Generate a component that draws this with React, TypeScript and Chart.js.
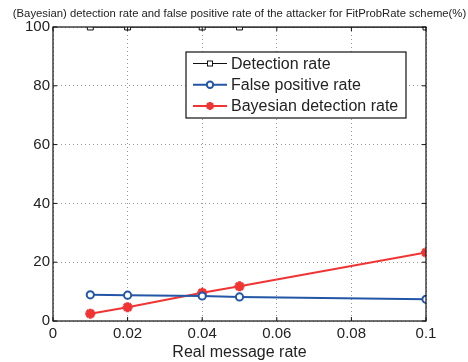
import React, { useEffect, useRef } from "react";
import { Chart, registerables } from "chart.js";

Chart.register(...registerables);

const TITLE = "(Bayesian) detection rate and false positive rate of the attacker for FitProbRate scheme(%)";
const X_LABEL = "Real message rate";
const messageRates = [0.01, 0.02, 0.04, 0.05, 0.1];
const detectionRate = [100, 100, 100, 100, 100];
const falsePositiveRate = [8.9, 8.8, 8.5, 8.2, 7.4];
const bayesianDetectionRate = [2.5, 4.7, 9.6, 11.8, 23.3];
const xTicks = [0, 0.02, 0.04, 0.06, 0.08, 0.1];
const yTicks = [0, 20, 40, 60, 80, 100];
const seriesLabels = ["Detection rate", "False positive rate", "Bayesian detection rate"];

const BLUE = "#2356a6";
const RED = "#f03434";
const TEXT = "#222222";
const FONT = "Liberation Sans, Arial, Helvetica, sans-serif";

function drawMarker(ctx: CanvasRenderingContext2D, style: string, x: number, y: number, color: string) {
  ctx.save();
  ctx.strokeStyle = color;
  if (style === "rect") {
    ctx.lineWidth = 1;
    ctx.fillStyle = "#fff";
    ctx.fillRect(x - 2.5, y - 2.5, 5, 5);
    ctx.strokeRect(x - 2.5, y - 2.5, 5, 5);
  } else if (style === "circle") {
    ctx.lineWidth = 2;
    ctx.fillStyle = "#fff";
    ctx.beginPath();
    ctx.arc(x, y, 3.2, 0, Math.PI * 2);
    ctx.fill();
    ctx.stroke();
  } else {
    ctx.lineWidth = 2.5;
    const r = 4;
    ctx.beginPath();
    for (let i = 0; i < 4; i++) {
      const a = (i * Math.PI) / 4;
      ctx.moveTo(x - r * Math.cos(a), y - r * Math.sin(a));
      ctx.lineTo(x + r * Math.cos(a), y + r * Math.sin(a));
    }
    ctx.stroke();
  }
  ctx.restore();
}

const framePlugin = {
  id: "frame",
  afterDraw(chart: any) {
    const { ctx, chartArea } = chart;
    const { left, right, top, bottom } = chartArea;
    ctx.save();
    ctx.fillStyle = TEXT;
    ctx.font = `11.3px ${FONT}`;
    ctx.textAlign = "center";
    ctx.textBaseline = "alphabetic";
    ctx.fillText(TITLE, (left + right) / 2, 17);
    ctx.strokeStyle = "#111";
    ctx.lineWidth = 1.2;
    ctx.strokeRect(left, top, right - left, bottom - top);
    ctx.lineWidth = 1;
    const xs = chart.scales.x;
    const ys = chart.scales.y;
    xTicks.forEach((v) => {
      const px = xs.getPixelForValue(v);
      ctx.beginPath();
      ctx.moveTo(px, bottom);
      ctx.lineTo(px, bottom - 4);
      ctx.moveTo(px, top);
      ctx.lineTo(px, top + 4);
      ctx.stroke();
    });
    yTicks.forEach((v) => {
      const py = ys.getPixelForValue(v);
      ctx.beginPath();
      ctx.moveTo(left, py);
      ctx.lineTo(left + 4, py);
      ctx.moveTo(right, py);
      ctx.lineTo(right - 4, py);
      ctx.stroke();
    });
    const bx = 186, by = 52, bw = 220, bh = 66;
    ctx.fillStyle = "#fff";
    ctx.fillRect(bx, by, bw, bh);
    ctx.strokeStyle = "#111";
    ctx.lineWidth = 1.2;
    ctx.strokeRect(bx, by, bw, bh);
    const styles = ["rect", "circle", "star"];
    chart.data.datasets.forEach((ds: any, i: number) => {
      const y = 63.5 + i * 21.2;
      ctx.strokeStyle = ds.borderColor;
      ctx.lineWidth = ds.borderWidth;
      ctx.beginPath();
      ctx.moveTo(193, y);
      ctx.lineTo(227, y);
      ctx.stroke();
      drawMarker(ctx, styles[i], 210, y, ds.borderColor);
      ctx.fillStyle = TEXT;
      ctx.font = `16px ${FONT}`;
      ctx.textAlign = "left";
      ctx.textBaseline = "middle";
      ctx.fillText(ds.label, 231, y + 1);
    });
    ctx.restore();
  },
};

export default function App() {
  const ref = useRef<HTMLCanvasElement | null>(null);
  useEffect(() => {
    if (!ref.current) return;
    const chart = new Chart(ref.current, {
      type: "line",
      data: {
        datasets: [
          {
            label: seriesLabels[0],
            data: messageRates.map((x, i) => ({ x, y: detectionRate[i] })),
            borderColor: "#111",
            backgroundColor: "#fff",
            borderWidth: 1,
            pointStyle: "rect",
            pointRadius: 4.2,
            pointBorderWidth: 1,
          },
          {
            label: seriesLabels[1],
            data: messageRates.map((x, i) => ({ x, y: falsePositiveRate[i] })),
            borderColor: BLUE,
            backgroundColor: "#fff",
            borderWidth: 2,
            pointStyle: "circle",
            pointRadius: 3.6,
            pointBorderWidth: 2,
          },
          {
            label: seriesLabels[2],
            data: messageRates.map((x, i) => ({ x, y: bayesianDetectionRate[i] })),
            borderColor: RED,
            backgroundColor: RED,
            borderWidth: 2,
            pointStyle: "star",
            pointRadius: 5,
            pointBorderWidth: 3,
          },
        ],
      },
      options: {
        animation: false,
        responsive: false,
        maintainAspectRatio: false,
        layout: { padding: { top: 27, left: 0, right: 42, bottom: 0 } },
        plugins: { legend: { display: false }, title: { display: false }, tooltip: { enabled: false } },
        elements: { line: { tension: 0 } },
        scales: {
          x: {
            type: "linear",
            min: 0,
            max: 0.1,
            afterBuildTicks: (s: any) => {
              s.ticks = xTicks.map((v) => ({ value: v }));
            },
            afterFit: (s: any) => {
              s.height = 41;
            },
            ticks: {
              color: TEXT,
              font: { size: 15, family: FONT },
              padding: 4,
              maxRotation: 0,
              callback: (v: any) => String(+Number(v).toFixed(2)),
            },
            grid: { color: "#999", lineWidth: 1, drawTicks: false, tickLength: 0 },
            border: { display: false, dash: [1, 3] },
            title: { display: true, text: X_LABEL, color: TEXT, font: { size: 16, family: FONT }, padding: { top: 0, bottom: 0 } },
          },
          y: {
            type: "linear",
            min: 0,
            max: 100,
            afterBuildTicks: (s: any) => {
              s.ticks = yTicks.map((v) => ({ value: v }));
            },
            afterFit: (s: any) => {
              s.width = 53;
            },
            ticks: { color: TEXT, font: { size: 15, family: FONT }, padding: 3 },
            grid: { color: "#999", lineWidth: 1, drawTicks: false, tickLength: 0 },
            border: { display: false, dash: [1, 3] },
          },
        },
      },
      plugins: [framePlugin],
    } as any);
    return () => chart.destroy();
  }, []);
  return (
    <div style={{ position: "fixed", left: 0, top: 0, width: 468, height: 362, background: "#fff" }}>
      <canvas ref={ref} width={468} height={362} style={{ width: 468, height: 362 }} />
    </div>
  );
}
